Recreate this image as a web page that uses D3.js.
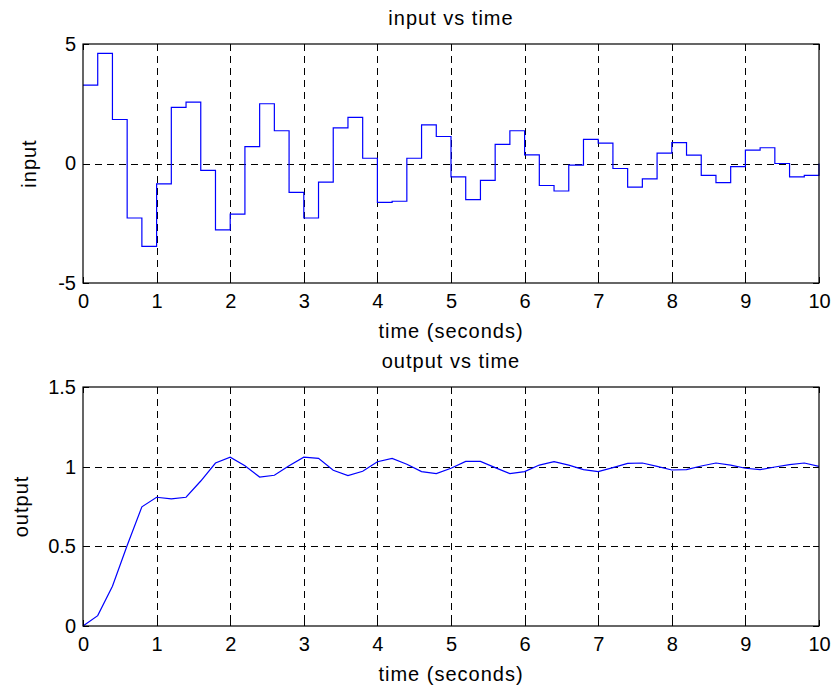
<!DOCTYPE html>
<html lang="en">
<head>
<meta charset="UTF-8">
<title>input / output vs time</title>
<style>
  body { margin: 0; background: #fff; }
  svg { display: block; background: #fff; font-family: "Liberation Sans", Arial, Helvetica, sans-serif; }
  .tick text { font-size: 20px; fill: #000; }
  .label { font-size: 20px; letter-spacing: 1px; fill: #000; }
  .grid { stroke: #000; stroke-width: 1px; stroke-dasharray: 7,5; fill: none; }
  .box { fill: none; stroke: #000; stroke-width: 1.2px; }
  .tickmark { stroke: #000; stroke-width: 1px; }
  .trace { fill: none; stroke: #0000ff; stroke-width: 1.2px; }
</style>
</head>
<body>
<svg width="833" height="690"></svg>
<script src="https://d3js.org/d3.v7.min.js"></script>
<script>
// sampling interval (s)
var dt = 0.2;

// control input, held over each interval (stairs)
var inputValues = [
   3.28,  4.61,  1.84, -2.28, -3.47, -0.85,  2.35,  2.57, -0.29, -2.78,
  -2.12,  0.71,  2.50,  1.37, -1.21, -2.28, -0.78,  1.49,  1.93,  0.22,
  -1.63, -1.58,  0.22,  1.62,  1.13, -0.56, -1.51, -0.71,  0.80,  1.37,
   0.36, -0.92, -1.15, -0.07,  1.01,  0.85, -0.21, -0.99, -0.64,  0.43,
   0.87,  0.35, -0.50, -0.80, -0.13,  0.56,  0.66,  0.00, -0.56, -0.50,
   0.00
];

// plant output at each sample
var outputValues = [
  0.000, 0.065, 0.250, 0.505, 0.748, 0.808, 0.798, 0.808, 0.910, 1.023,
  1.060, 1.006, 0.935, 0.946, 1.006, 1.060, 1.052, 0.977, 0.944, 0.971,
  1.031, 1.052, 1.015, 0.969, 0.956, 0.990, 1.033, 1.033, 0.994, 0.956,
  0.969, 1.010, 1.031, 1.010, 0.981, 0.969, 0.994, 1.021, 1.023, 1.002,
  0.979, 0.981, 1.004, 1.023, 1.010, 0.990, 0.981, 0.998, 1.013, 1.023,
  1.002
];

var timeTicks = [0, 1, 2, 3, 4, 5, 6, 7, 8, 9, 10];
var inputTicks = [-5, 0, 5];
var outputTicks = [0, 0.5, 1, 1.5];

var svg = d3.select("svg");
var left = 83, right = 819;

var x = d3.scaleLinear().domain([0, 10]).range([left, right]);

function panel(o) {
  var y = d3.scaleLinear().domain(o.domain).range([o.bottom, o.top]);
  var g = svg.append("g");

  // dashed grid, skipping lines that sit on the box
  g.selectAll(".vgrid")
    .data(timeTicks.filter(function (t) { return t > 0 && t < 10; }))
    .enter().append("line")
    .attr("class", "grid")
    .attr("x1", function (d) { return Math.round(x(d)) + 0.5; })
    .attr("x2", function (d) { return Math.round(x(d)) + 0.5; })
    .attr("y1", o.top).attr("y2", o.bottom);
  g.selectAll(".hgrid")
    .data(o.ticks.filter(function (t) { return t > o.domain[0] && t < o.domain[1]; }))
    .enter().append("line")
    .attr("class", "grid")
    .attr("x1", left).attr("x2", right)
    .attr("y1", function (d) { return Math.round(y(d)) + 0.5; })
    .attr("y2", function (d) { return Math.round(y(d)) + 0.5; });

  // inward tick marks on all four sides
  var tl = 6;
  timeTicks.forEach(function (t) {
    var px = Math.round(x(t)) + 0.5;
    g.append("line").attr("class", "tickmark").attr("x1", px).attr("x2", px).attr("y1", o.bottom).attr("y2", o.bottom - tl);
    g.append("line").attr("class", "tickmark").attr("x1", px).attr("x2", px).attr("y1", o.top).attr("y2", o.top + tl);
  });
  o.ticks.forEach(function (t) {
    var py = Math.round(y(t)) + 0.5;
    g.append("line").attr("class", "tickmark").attr("x1", left).attr("x2", left + tl).attr("y1", py).attr("y2", py);
    g.append("line").attr("class", "tickmark").attr("x1", right).attr("x2", right - tl).attr("y1", py).attr("y2", py);
  });

  // data trace
  var line = d3.line()
    .x(function (d, i) { return x(i * dt); })
    .y(function (d) { return y(d); })
    .curve(o.curve);
  g.append("path")
    .datum(o.values)
    .attr("class", "trace")
    .attr("d", line);

  // axes (labels only, box drawn separately)
  var xa = g.append("g")
    .attr("transform", "translate(0," + o.bottom + ")")
    .call(d3.axisBottom(x).tickValues(timeTicks).tickSize(0).tickPadding(11).tickFormat(d3.format("d")));
  xa.select(".domain").remove();
  var ya = g.append("g")
    .attr("transform", "translate(" + left + ",0)")
    .call(d3.axisLeft(y).tickValues(o.ticks).tickSize(0).tickPadding(7).tickFormat(function (d) { return String(d); }));
  ya.select(".domain").remove();
  g.selectAll(".tick text").attr("font-family", null).attr("font-size", null);

  g.append("rect")
    .attr("class", "box")
    .attr("x", left).attr("y", o.top)
    .attr("width", right - left).attr("height", o.bottom - o.top);

  // title and axis labels
  g.append("text").attr("class", "label")
    .attr("x", (left + right) / 2).attr("y", o.top - 19)
    .attr("text-anchor", "middle")
    .text(o.title);
  g.append("text").attr("class", "label")
    .attr("x", (left + right) / 2).attr("y", o.bottom + 55)
    .attr("text-anchor", "middle")
    .text("time (seconds)");
  g.append("text").attr("class", "label")
    .attr("transform", "translate(" + o.ylabelX + "," + (o.top + o.bottom) / 2 + ") rotate(-90)")
    .attr("text-anchor", "middle")
    .text(o.ylabel);
}

panel({
  top: 44, bottom: 283,
  domain: [-5, 5], ticks: inputTicks,
  values: inputValues, curve: d3.curveStepAfter,
  title: "input vs time", ylabel: "input", ylabelX: 36
});

panel({
  top: 387, bottom: 626,
  domain: [0, 1.5], ticks: outputTicks,
  values: outputValues, curve: d3.curveLinear,
  title: "output vs time", ylabel: "output", ylabelX: 28
});
</script>
</body>
</html>
